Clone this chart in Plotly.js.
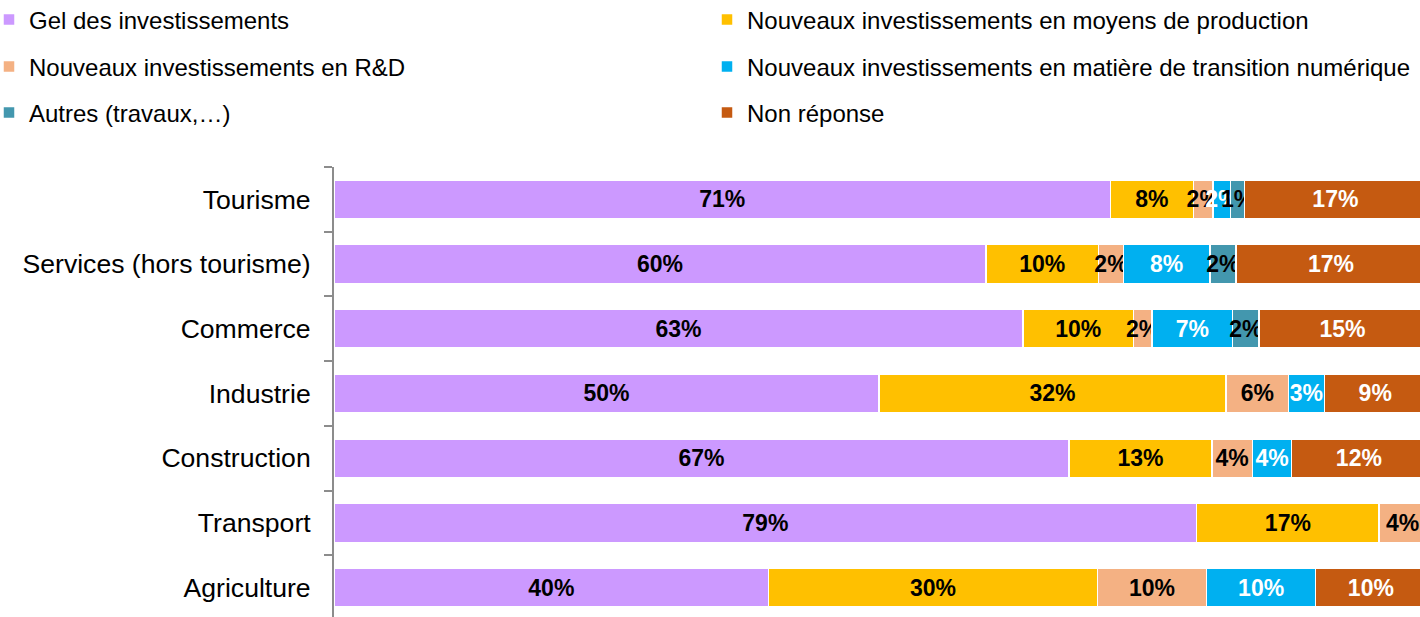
<!DOCTYPE html>
<html>
<head>
<meta charset="utf-8">
<script src="https://cdn.plot.ly/plotly-3.0.1.min.js"></script>
<style>
  html, body { margin: 0; padding: 0; background: #fff; }
  #chart { width: 1420px; height: 617px; }
</style>
</head>
<body>
<div id="chart"></div>
<script>
// secteurs, du haut vers le bas
var secteurs = ['Tourisme', 'Services (hors tourisme)', 'Commerce', 'Industrie', 'Construction', 'Transport', 'Agriculture'];

// parts en %
var gel        = [71.1, 59.7, 63.1, 49.9, 67.3, 79.0, 39.8];
var production = [7.6, 10.3, 10.1, 31.8, 13.1, 16.7, 30.1];
var rd         = [1.8, 2.3, 1.7, 5.7, 3.7, 4.3, 10.0];
var numerique  = [1.6, 7.9, 7.4, 3.3, 3.6, null, 10.0];
var autres     = [1.3, 2.4, 2.4, null, null, null, null];
var nonReponse = [16.6, 17.4, 15.3, 9.3, 12.3, null, 10.1];

var series = [
  {name: 'Gel des investissements', values: gel, color: '#CC99FF', txt: '#000000'},
  {name: 'Nouveaux investissements en moyens de production', values: production, color: '#FFC000', txt: '#000000'},
  {name: 'Nouveaux investissements en R&D', values: rd, color: '#F4B183', txt: '#000000'},
  {name: 'Nouveaux investissements en matière de transition numérique', values: numerique, color: '#00B0F0', txt: '#FFFFFF'},
  {name: 'Autres (travaux,…)', values: autres, color: '#4397AE', txt: '#000000'},
  {name: 'Non réponse', values: nonReponse, color: '#C55A11', txt: '#FFFFFF'}
];

var fontFam = 'Liberation Sans, Arial, sans-serif';

var data = series.map(function (s, i) {
  return {
    type: 'bar',
    orientation: 'h',
    name: s.name,
    y: secteurs,
    x: s.values,
    marker: {color: s.color, line: {color: '#FFFFFF', width: 1.5}},
    texttemplate: '%{x:.0f}%',
    textposition: 'inside',
    insidetextanchor: 'middle',
    textangle: 0,
    constraintext: 'none',
    insidetextfont: {family: fontFam, size: 23, color: s.txt, weight: 'bold'},
    hoverinfo: 'skip',
    legend: i === 0 ? 'legend' : 'legend' + (i + 1)
  };
});

var layout = {
  width: 1420,
  height: 617,
  margin: {l: 334, r: 0, t: 167, b: 0, pad: 0, autoexpand: false},
  paper_bgcolor: '#FFFFFF',
  plot_bgcolor: '#FFFFFF',
  barmode: 'stack',
  bargap: 0.4,
  showlegend: true,
  uniformtext: {mode: 'show', minsize: 23},
  font: {family: fontFam, color: '#000000'},
  xaxis: {
    range: [0, 99.45],
    showgrid: false,
    zeroline: false,
    showline: false,
    showticklabels: false,
    ticks: '',
    fixedrange: true
  },
  yaxis: {
    type: 'category',
    categoryorder: 'array',
    categoryarray: secteurs,
    range: [6.455, -0.5],
    showgrid: false,
    zeroline: false,
    showline: true,
    linecolor: '#8C8C8C',
    linewidth: 2,
    ticks: 'outside',
    tickson: 'boundaries',
    ticklen: 8,
    tickwidth: 2,
    tickcolor: '#8C8C8C',
    ticklabelstandoff: 16,
    tickfont: {family: fontFam, size: 26.6, color: '#000000'},
    fixedrange: true
  }
};

// légende sur deux colonnes, trois lignes (coordonnées en pixels -> papier)
var rowPx = [20, 67, 113];
var colPx = [-11, 707];
series.forEach(function (s, i) {
  var key = i === 0 ? 'legend' : 'legend' + (i + 1);
  var col = i % 2, row = Math.floor(i / 2);
  layout[key] = {
    xref: 'paper',
    yref: 'paper',
    x: (colPx[col] - 334) / 1086,
    y: (617 - rowPx[row]) / 450,
    xanchor: 'left',
    yanchor: 'middle',
    bgcolor: 'rgba(0,0,0,0)',
    borderwidth: 0,
    itemwidth: 30,
    font: {family: fontFam, size: 24, color: '#000000'}
  };
});

Plotly.newPlot('chart', data, layout, {displayModeBar: false, staticPlot: true});
</script>
</body>
</html>
